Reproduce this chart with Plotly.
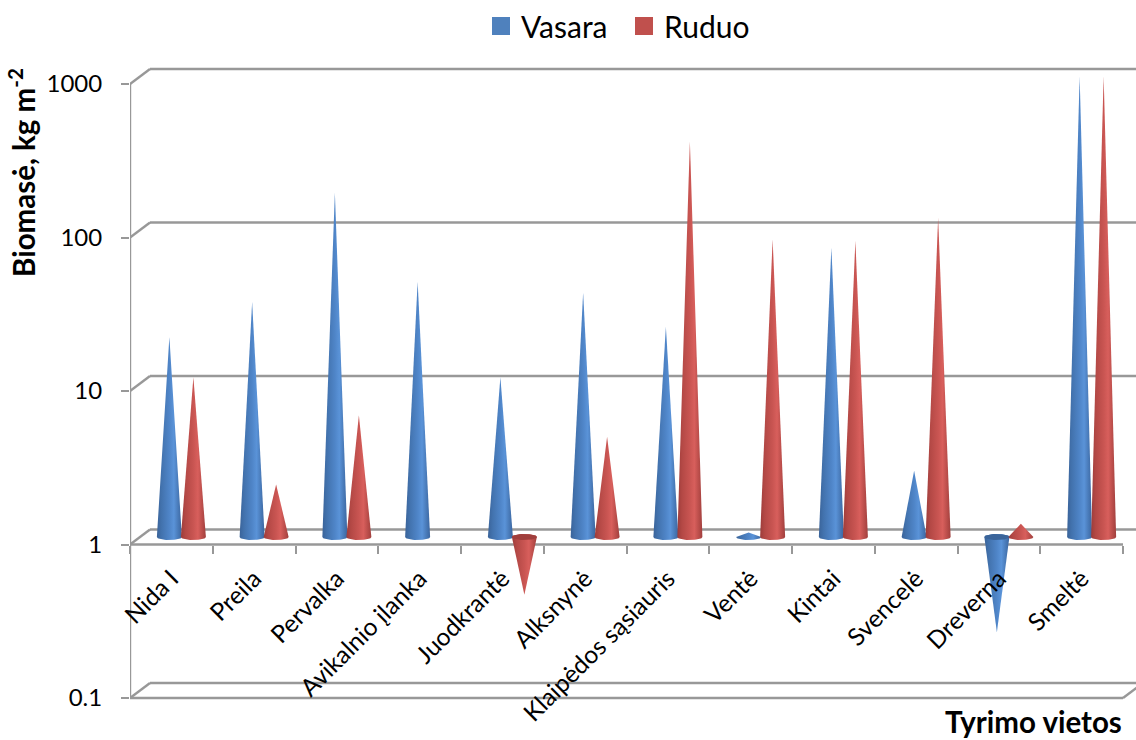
import numpy as np
import plotly.graph_objects as go

categories = ["Nida I", "Preila", "Pervalka", "Avikalnio įlanka", "Juodkrantė", "Alksnynė",
              "Klaipėdos sąsiauris", "Ventė", "Kintai", "Svencelė", "Dreverna", "Smeltė"]
vasara = [20, 34, 175, 46, 11, 39, 23.5, 1.07, 77, 2.7, 0.24, 1000]
ruduo = [11, 2.2, 6.2, None, 0.42, 4.5, 378, 87, 85, 120, 1.22, 1000]
y_ticks = [0.1, 1, 10, 100, 1000]
y_tick_labels = ["0.1", "1", "10", "100", "1000"]

FONT = "Lato"
GRID = "#989898"
W, H = 1136, 740
LEFT, RIGHT, TOP, BOTTOM = 130, 1136, 60, 701
PX_CAT = 82.75      # px per category
PX_DEC = 153.5      # px per decade
Y_01 = 698          # pixel of value 0.1 on the front plane
DEPTH_X, DEPTH_Y = 20, 15


def px_x(px):
    return px / PX_CAT


def fac(px):
    """multiplier that moves a value up by px pixels on the log axis"""
    return 10 ** (px / PX_DEC)


n = len(categories)
x_max = (RIGHT - LEFT) / PX_CAT
y_lo = -1 - (BOTTOM - Y_01) / PX_DEC
y_hi = -1 + (Y_01 - TOP) / PX_DEC

fig = go.Figure()

# ---- frame of the 3-D box ----
fx, fy = [], []


def seg(x0, y0, x1, y1):
    fx.extend([x0, x1, None])
    fy.extend([y0, y1, None])


dx, up = px_x(DEPTH_X), fac(DEPTH_Y)
for v in y_ticks:
    seg(dx, v * up, x_max + 1, v * up)   # back wall line
    seg(0, v, dx, v * up)                # left depth line
seg(0, 0.1, 0, 1000)                     # left edge
seg(0, 1, n, 1)                          # front line at value 1
seg(0, 0.1, n, 0.1)                      # front floor
seg(n, 0.1, n + dx, 0.1 * up)            # right floor edge
fig.add_trace(go.Scatter(x=fx, y=fy, mode="lines", line=dict(color=GRID, width=2.4),
                         hoverinfo="skip", showlegend=False))

# ---- cones ----
BLUE_SCALE = [[0, "#3a6399"], [0.18, "#4272ad"], [0.5, "#4f85c8"], [0.68, "#5a93d8"], [0.88, "#4676b3"], [1, "#3b66a0"]]
RED_SCALE = [[0, "#9c3c3a"], [0.18, "#b34845"], [0.5, "#c95552"], [0.68, "#d85f5c"], [0.88, "#b64b48"], [1, "#a03f3d"]]
BASE_R = 12.5 / PX_CAT
ELL = 3.0


def cone(center, value, scale, top_colour):
    cx = center + px_x(10)
    base = fac(7.5)
    tip = value * fac(7.5)
    t = np.linspace(0, np.pi, 25)
    rx = BASE_R * np.cos(t)
    if value >= 1:
        ry = base * fac(-ELL) ** np.sin(t)       # lower half of the base ellipse
    else:
        ry = base * fac(ELL) ** np.sin(t)        # upper half, seen from above
    xs = list(cx + rx) + [cx]
    ys = list(ry) + [tip]
    xs.append(xs[0])
    ys.append(ys[0])
    fig.add_trace(go.Scatter(
        x=xs, y=ys, mode="lines", line=dict(width=0), fill="toself",
        fillgradient=dict(type="horizontal", colorscale=scale),
        hoverinfo="skip", showlegend=False))
    if value < 1:
        t2 = np.linspace(0, 2 * np.pi, 49)
        fig.add_trace(go.Scatter(
            x=cx + BASE_R * np.cos(t2), y=base * fac(ELL) ** np.sin(t2), mode="lines",
            line=dict(width=0), fill="toself", fillcolor=top_colour,
            hoverinfo="skip", showlegend=False))


OFF = 12 / PX_CAT
for i in range(n):
    if vasara[i] is not None:
        cone(i + 0.5 - OFF, vasara[i], BLUE_SCALE, "#3a649a")
    if ruduo[i] is not None:
        cone(i + 0.5 + OFF, ruduo[i], RED_SCALE, "#a03f3d")

# ---- legend entries ----
fig.add_trace(go.Scatter(x=[None], y=[None], mode="markers", name="Vasara",
                         marker=dict(symbol="square", size=16, color="#4f81bd",
                                     line=dict(width=2, color="#4f81bd"))))
fig.add_trace(go.Scatter(x=[None], y=[None], mode="markers", name="Ruduo",
                         marker=dict(symbol="square", size=16, color="#c0504d",
                                     line=dict(width=2, color="#c0504d"))))

fig.update_layout(
    width=W, height=H, autosize=False,
    margin=dict(l=LEFT, r=W - RIGHT, t=TOP, b=H - BOTTOM, pad=0),
    paper_bgcolor="white", plot_bgcolor="white",
    font=dict(family=FONT, color="black", size=24),
    legend=dict(orientation="h", x=(481 - LEFT) / (RIGHT - LEFT), xref="paper", y=1.0, yref="container",
                xanchor="left", yanchor="top", font=dict(size=30), itemwidth=30, traceorder="normal",
                entrywidth=98, entrywidthmode="pixels"),
    xaxis=dict(range=[0, x_max], anchor="free",
               position=(BOTTOM - (Y_01 - PX_DEC)) / (BOTTOM - TOP),
               tickmode="array", tickvals=[i + 0.5 for i in range(n)], ticktext=categories,
               ticks="", tickangle=-45, showgrid=False, zeroline=False, showline=False,
               tickfont=dict(size=24.5), ticklabelstandoff=14,
               minor=dict(tickmode="array", tickvals=list(range(n + 1)), ticks="outside",
                          ticklen=8, tickwidth=2.4, tickcolor=GRID, showgrid=False)),
    yaxis=dict(type="log", range=[y_lo, y_hi], tickmode="array", tickvals=y_ticks,
               ticktext=y_tick_labels, ticks="outside", ticklen=8, tickwidth=2.4, tickcolor=GRID,
               showgrid=False, zeroline=False, showline=False, ticklabelstandoff=14,
               tickfont=dict(size=24)),
    annotations=[
        dict(text="<b>Biomasė, kg m<sup>-2</sup></b>", xref="paper", yref="paper",
             x=-(LEFT - 22) / (RIGHT - LEFT), y=(BOTTOM - 173) / (BOTTOM - TOP),
             textangle=-90, showarrow=False, font=dict(size=29.5), xanchor="center", yanchor="middle"),
        dict(text="<b>Tyrimo vietos</b>", xref="paper", yref="paper",
             x=(1124 - LEFT) / (RIGHT - LEFT), y=(BOTTOM - 721.5) / (BOTTOM - TOP),
             showarrow=False, font=dict(size=29.5), xanchor="right", yanchor="middle"),
    ],
)

fig.write_html("out.html", config={"displayModeBar": False}, post_script="document.body.style.margin='0';")
